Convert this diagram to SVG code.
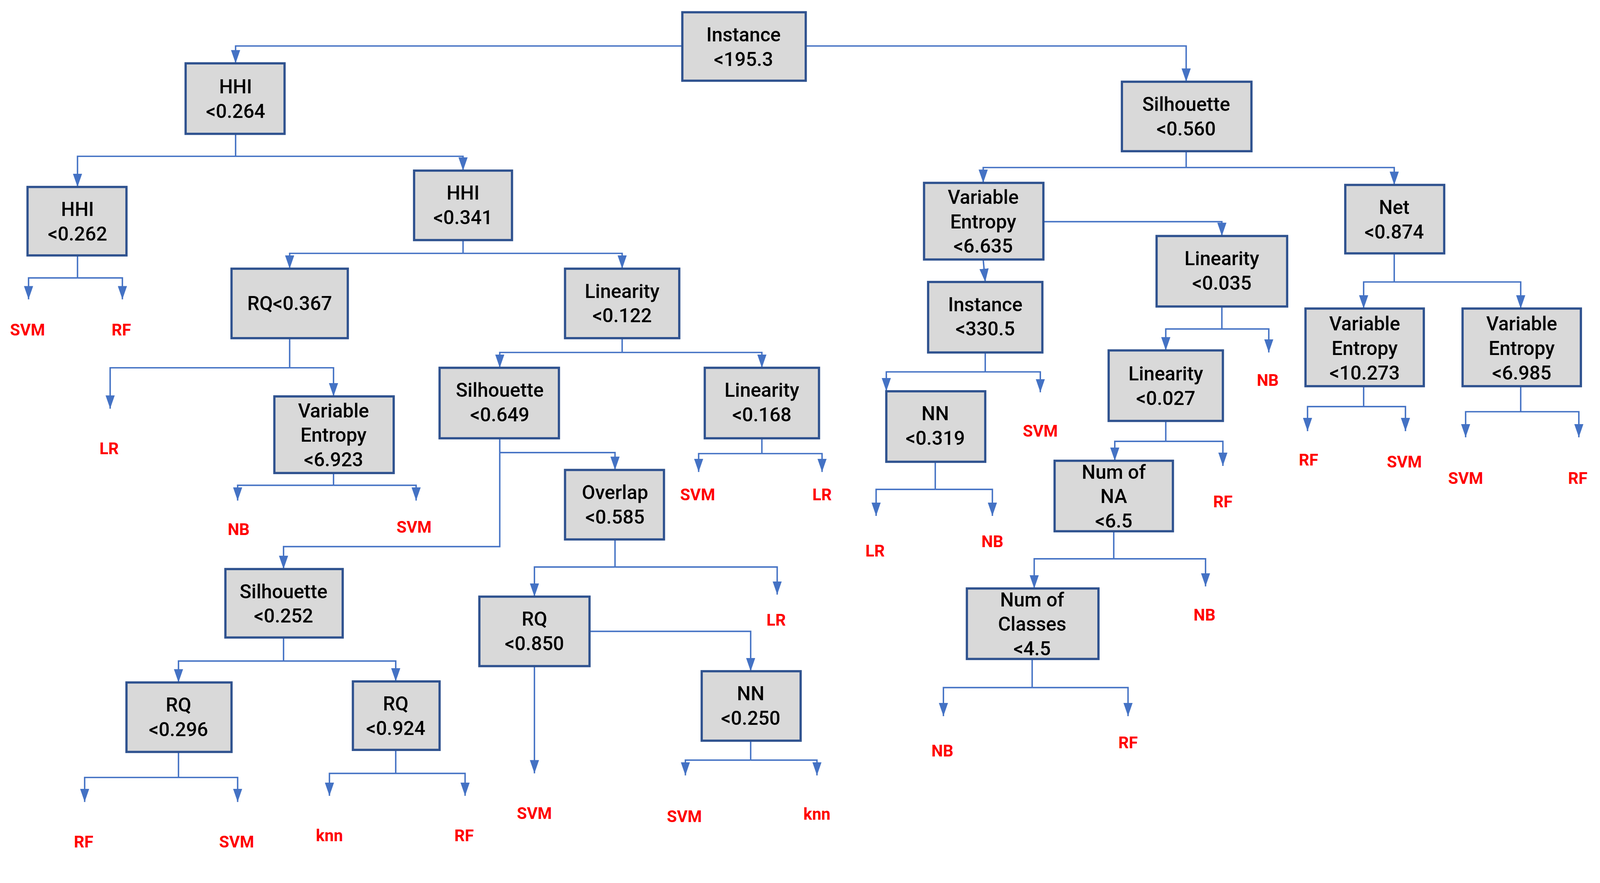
<svg xmlns="http://www.w3.org/2000/svg" width="4221" height="2261" viewBox="0 0 4221 2261">
<style>
.b{fill:#D9D9D9;stroke:#2F528F;stroke-width:2.2}
.t{font-family:Roboto,"Noto Sans",sans-serif;font-weight:500;font-size:19px;fill:#000;text-anchor:middle;dominant-baseline:central}
.l{font-family:Roboto,"Noto Sans",sans-serif;font-weight:700;font-size:16px;fill:#FF0000;text-anchor:middle;dominant-baseline:central}
.c{fill:none;stroke:#4472C4;stroke-width:1.4;marker-end:url(#a)}
.n{fill:none;stroke:#4472C4;stroke-width:1.4}
</style>
<defs>
<marker id="a" markerUnits="userSpaceOnUse" markerWidth="13" markerHeight="9" refX="13" refY="4.5" orient="auto" viewBox="0 0 13 9">
<path d="M0,0 L13,4.5 L0,9 Z" fill="#4472C4"/>
</marker>
</defs>
<rect width="4221" height="2261" fill="#fff"/>
<g transform="scale(2.611,2.616)">
<g id="connectors">
<path class="c" d="M669,45 H231 V62"/>
<path class="c" d="M790,45 H1163 V80"/>
<path class="n" d="M231,131 V153"/><path class="c" d="M231,153 H76 V183"/><path class="c" d="M231,153 H454 V167"/>
<path class="n" d="M76,250 V272"/><path class="c" d="M76,272 H28 V293"/><path class="c" d="M76,272 H120 V293"/>
<path class="n" d="M454,235 V248"/><path class="c" d="M454,248 H284 V263"/><path class="c" d="M454,248 H610 V263"/>
<path class="n" d="M284,331 V360"/><path class="c" d="M284,360 H108 V400"/><path class="c" d="M284,360 H327 V388"/>
<path class="n" d="M327,463 V475"/><path class="c" d="M327,475 H233 V490"/><path class="c" d="M327,475 H408 V490"/>
<path class="n" d="M610,331 V345"/><path class="c" d="M610,345 H490 V360"/><path class="c" d="M610,345 H747 V360"/>
<path class="c" d="M490,429 V535 H278 V557"/>
<path class="c" d="M490,443 H603 V460"/>
<path class="n" d="M747,429 V444"/><path class="c" d="M747,444 H685 V462"/><path class="c" d="M747,444 H806 V462"/>
<path class="n" d="M603,528 V555"/><path class="c" d="M603,555 H524 V584"/><path class="c" d="M603,555 H762 V582"/>
<path class="n" d="M278,624 V647"/><path class="c" d="M278,647 H175 V668"/><path class="c" d="M278,647 H388 V667"/>
<path class="n" d="M175,736 V761"/><path class="c" d="M175,761 H83 V785"/><path class="c" d="M175,761 H233 V785"/>
<path class="n" d="M388,734 V757"/><path class="c" d="M388,757 H323 V779"/><path class="c" d="M388,757 H456 V779"/>
<path class="c" d="M578,618 H736 V657"/>
<path class="c" d="M524,652 V757"/>
<path class="n" d="M736,725 V744"/><path class="c" d="M736,744 H672 V759"/><path class="c" d="M736,744 H801 V759"/>
<path class="n" d="M1163,148 V164"/><path class="c" d="M1163,164 H964 V179"/><path class="c" d="M1163,164 H1367 V181"/>
<path class="c" d="M1023,217 H1198 V231"/>
<path class="c" d="M964,254 L966,276"/>
<path class="n" d="M966,345 V364"/><path class="c" d="M966,364 H869 V383"/><path class="c" d="M966,364 H1020 V384"/>
<path class="n" d="M917,452 V479"/><path class="c" d="M917,479 H859 V505"/><path class="c" d="M917,479 H973 V505"/>
<path class="n" d="M1198,300 V322"/><path class="c" d="M1198,322 H1143 V343"/><path class="c" d="M1198,322 H1244 V345"/>
<path class="n" d="M1143,412 V432"/><path class="c" d="M1143,432 H1093 V451"/><path class="c" d="M1143,432 H1199 V456"/>
<path class="n" d="M1092,520 V547"/><path class="c" d="M1092,547 H1014 V576"/><path class="c" d="M1092,547 H1182 V574"/>
<path class="n" d="M1012,645 V673"/><path class="c" d="M1012,673 H925 V701"/><path class="c" d="M1012,673 H1106 V701"/>
<path class="n" d="M1367,248 V276"/><path class="c" d="M1367,276 H1337 V302"/><path class="c" d="M1367,276 H1491 V302"/>
<path class="n" d="M1337,378 V398"/><path class="c" d="M1337,398 H1282 V422"/><path class="c" d="M1337,398 H1378 V422"/>
<path class="n" d="M1491,378 V403"/><path class="c" d="M1491,403 H1437 V428"/><path class="c" d="M1491,403 H1548 V428"/>
</g>
<g id="n1"><rect class="b" x="669" y="12" width="121" height="67"/><text class="t" x="729" y="34">Instance</text><text class="t" x="729" y="58">&lt;195.3</text></g>
<g id="n2"><rect class="b" x="182" y="62" width="97" height="69"/><text class="t" x="231" y="85">HHI</text><text class="t" x="231" y="109">&lt;0.264</text></g>
<g id="n3"><rect class="b" x="1100" y="80" width="127" height="68"/><text class="t" x="1163" y="102">Silhouette</text><text class="t" x="1163" y="126">&lt;0.560</text></g>
<g id="n4"><rect class="b" x="27" y="183" width="97" height="67"/><text class="t" x="76" y="205">HHI</text><text class="t" x="76" y="229">&lt;0.262</text></g>
<g id="n5"><rect class="b" x="406" y="167" width="96" height="68"/><text class="t" x="454" y="189">HHI</text><text class="t" x="454" y="213">&lt;0.341</text></g>
<g id="n6"><rect class="b" x="227" y="263" width="114" height="68"/><text class="t" x="284" y="297">RQ&lt;0.367</text></g>
<g id="n7"><rect class="b" x="554" y="263" width="112" height="68"/><text class="t" x="610" y="285">Linearity</text><text class="t" x="610" y="309">&lt;0.122</text></g>
<g id="n8"><rect class="b" x="269" y="388" width="117" height="75"/><text class="t" x="327" y="402">Variable</text><text class="t" x="327" y="426">Entropy</text><text class="t" x="327" y="450">&lt;6.923</text></g>
<g id="n9"><rect class="b" x="431" y="360" width="117" height="69"/><text class="t" x="490" y="382">Silhouette</text><text class="t" x="490" y="406">&lt;0.649</text></g>
<g id="n10"><rect class="b" x="691" y="360" width="112" height="69"/><text class="t" x="747" y="382">Linearity</text><text class="t" x="747" y="406">&lt;0.168</text></g>
<g id="n11"><rect class="b" x="554" y="460" width="97" height="68"/><text class="t" x="603" y="482">Overlap</text><text class="t" x="603" y="506">&lt;0.585</text></g>
<g id="n12"><rect class="b" x="221" y="557" width="115" height="67"/><text class="t" x="278" y="579">Silhouette</text><text class="t" x="278" y="603">&lt;0.252</text></g>
<g id="n13"><rect class="b" x="124" y="668" width="103" height="68"/><text class="t" x="175" y="690">RQ</text><text class="t" x="175" y="714">&lt;0.296</text></g>
<g id="n14"><rect class="b" x="346" y="667" width="85" height="67"/><text class="t" x="388" y="689">RQ</text><text class="t" x="388" y="713">&lt;0.924</text></g>
<g id="n15"><rect class="b" x="470" y="584" width="108" height="68"/><text class="t" x="524" y="606">RQ</text><text class="t" x="524" y="630">&lt;0.850</text></g>
<g id="n16"><rect class="b" x="688" y="657" width="97" height="68"/><text class="t" x="736" y="679">NN</text><text class="t" x="736" y="703">&lt;0.250</text></g>
<g id="n17"><rect class="b" x="906" y="179" width="117" height="75"/><text class="t" x="964" y="193">Variable</text><text class="t" x="964" y="217">Entropy</text><text class="t" x="964" y="241">&lt;6.635</text></g>
<g id="n18"><rect class="b" x="1134" y="231" width="128" height="69"/><text class="t" x="1198" y="253">Linearity</text><text class="t" x="1198" y="277">&lt;0.035</text></g>
<g id="n19"><rect class="b" x="1319" y="181" width="97" height="67"/><text class="t" x="1367" y="203">Net</text><text class="t" x="1367" y="227">&lt;0.874</text></g>
<g id="n20"><rect class="b" x="910" y="276" width="112" height="69"/><text class="t" x="966" y="298">Instance</text><text class="t" x="966" y="322">&lt;330.5</text></g>
<g id="n21"><rect class="b" x="869" y="383" width="97" height="69"/><text class="t" x="917" y="405">NN</text><text class="t" x="917" y="429">&lt;0.319</text></g>
<g id="n22"><rect class="b" x="1087" y="343" width="112" height="69"/><text class="t" x="1143" y="366">Linearity</text><text class="t" x="1143" y="390">&lt;0.027</text></g>
<g id="n23"><rect class="b" x="1034" y="451" width="116" height="69"/><text class="t" x="1092" y="462">Num of</text><text class="t" x="1092" y="486">NA</text><text class="t" x="1092" y="510">&lt;6.5</text></g>
<g id="n24"><rect class="b" x="948" y="576" width="129" height="69"/><text class="t" x="1012" y="587">Num of</text><text class="t" x="1012" y="611">Classes</text><text class="t" x="1012" y="635">&lt;4.5</text></g>
<g id="n25"><rect class="b" x="1280" y="302" width="116" height="76"/><text class="t" x="1338" y="317">Variable</text><text class="t" x="1338" y="341">Entropy</text><text class="t" x="1338" y="365">&lt;10.273</text></g>
<g id="n26"><rect class="b" x="1434" y="302" width="116" height="76"/><text class="t" x="1492" y="317">Variable</text><text class="t" x="1492" y="341">Entropy</text><text class="t" x="1492" y="365">&lt;6.985</text></g>
<g id="leaves">
<text class="l" x="27" y="323">SVM</text><text class="l" x="119" y="323">RF</text>
<text class="l" x="107" y="439">LR</text>
<text class="l" x="234" y="518">NB</text><text class="l" x="406" y="516">SVM</text>
<text class="l" x="684" y="484">SVM</text><text class="l" x="806" y="484">LR</text>
<text class="l" x="761" y="607">LR</text>
<text class="l" x="82" y="824">RF</text><text class="l" x="232" y="824">SVM</text>
<text class="l" x="323" y="818">knn</text><text class="l" x="455" y="818">RF</text>
<text class="l" x="524" y="796">SVM</text>
<text class="l" x="671" y="799">SVM</text><text class="l" x="801" y="797">knn</text>
<text class="l" x="1020" y="422">SVM</text>
<text class="l" x="858" y="539">LR</text><text class="l" x="973" y="530">NB</text>
<text class="l" x="1243" y="372">NB</text>
<text class="l" x="1199" y="491">RF</text>
<text class="l" x="1181" y="602">NB</text>
<text class="l" x="924" y="735">NB</text><text class="l" x="1106" y="727">RF</text>
<text class="l" x="1283" y="450">RF</text><text class="l" x="1377" y="452">SVM</text>
<text class="l" x="1437" y="468">SVM</text><text class="l" x="1547" y="468">RF</text>
</g>
</g>
</svg>
